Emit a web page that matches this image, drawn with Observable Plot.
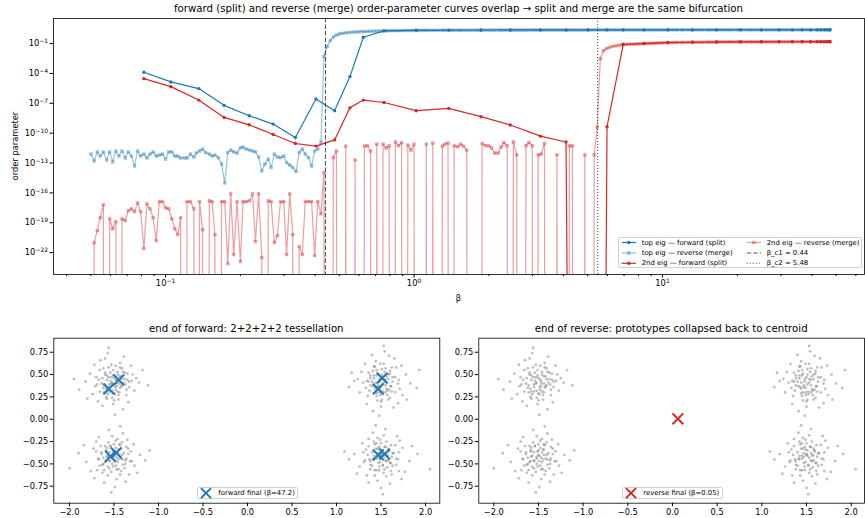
<!DOCTYPE html>
<html><head><meta charset="utf-8">
<script src="https://cdn.jsdelivr.net/npm/d3@7"></script>
<script src="https://cdn.jsdelivr.net/npm/@observablehq/plot@0.6"></script>
<style>
body{margin:0;background:#fff;}
#root{position:relative;width:865px;height:518px;font-family:"DejaVu Sans",sans-serif;color:#000;overflow:hidden;background:#fff}
.t{position:absolute;white-space:nowrap;line-height:1}
.box{position:absolute;border:1px solid #d0d0d0;border-radius:2px;background:rgba(255,255,255,0.85);box-sizing:border-box}
svg.leg{position:absolute;overflow:visible}
</style></head><body><div id="root"></div>
<script>
// ---------------- data ----------------
const titleMain = "forward (split) and reverse (merge) order-parameter curves overlap → split and merge are the same bifurcation";
const titleLeft = "end of forward: 2+2+2+2 tessellation";
const titleRight = "end of reverse: prototypes collapsed back to centroid";
const betaC1 = 0.44, betaC2 = 5.48;

// forward (split) run
const fwdBeta = [0.0818,0.105,0.136,0.172,0.217,0.271,0.333,0.403,0.479,0.552,0.625,0.757,1.02,1.38,1.86,2.44,3.23,4.09,5.02,5.98,6.95,8.43,10.5,13.2,16.5,20.6,25.0,29.4,33.3,36.5,39.4,41.9,43.4,44.8,45.9,46.9,47.2];
const fwdTop = [1.3e-4,1.4e-5,3.0e-6,6.2e-8,5.6e-9,8.1e-10,3.6e-11,2.7e-7,1.8e-8,4.8e-5,0.43,1.9,2.15,2.25,2.3,2.33,2.35,2.36,2.37,2.38,2.38,2.39,2.39,2.4,2.4,2.4,2.4,2.4,2.4,2.4,2.4,2.4,2.4,2.4,2.4,2.4,2.4];
const fwd2nd = [3.0e-5,4.7e-6,2.1e-7,3.8e-9,6.9e-10,7.4e-11,9.1e-12,5.0e-12,2.1e-11,3.5e-8,2.1e-7,1.2e-7,1.8e-8,3.1e-8,4.5e-9,6.5e-10,5.0e-11,1.3e-11,0,4.4e-10,0.085,0.1,0.126,0.135,0.142,0.147,0.15,0.151,0.152,0.153,0.154,0.155,0.155,0.155,0.155,0.155,0.155];

// reverse (merge) run
const revBeta = [0.0501,0.0516,0.0531,0.0546,0.0562,0.0579,0.0596,0.0613,0.0631,0.0649,
0.0668,0.0688,0.0708,0.0729,0.075,0.0772,0.0794,0.0818,0.0841,0.0866,
0.0891,0.0917,0.0944,0.0972,
0.1,0.103,0.106,0.109,0.112,0.115,0.119,0.122,0.126,0.13,
0.133,0.137,0.141,0.145,0.15,0.154,0.158,0.163,0.168,0.173,
0.178,0.183,0.188,0.194,0.2,0.205,0.211,0.218,0.224,0.23,
0.237,0.244,0.251,0.259,0.266,0.274,0.282,0.29,0.299,0.307,
0.316,0.325,0.335,0.345,0.355,0.365,0.376,0.387,0.398,0.41,
0.422,0.434,0.447,0.46,0.473,0.487,0.501,0.516,0.531,0.546,
0.562,0.579,0.596,0.613,0.631,0.649,0.668,0.688,0.708,0.729,
0.75,0.772,0.794,0.818,0.841,0.866,0.891,0.917,0.944,0.972,
1,1.03,1.06,1.09,1.12,1.15,1.19,1.22,1.26,1.3,
1.33,1.37,1.41,1.45,1.5,1.54,1.58,1.63,1.68,1.73,
1.78,1.83,1.88,1.94,2,2.05,2.11,2.18,2.24,2.3,
2.37,2.44,2.51,2.59,2.66,2.74,2.82,2.9,2.99,3.07,
3.16,3.25,3.35,3.45,3.55,3.65,3.76,3.87,3.98,4.1,
4.22,4.34,4.47,4.6,4.73,4.87,5.01,5.16,5.31,5.46,
5.62,5.79,5.96,6.13,6.31,6.49,6.68,6.88,7.08,7.29,
7.5,7.72,7.94,8.18,8.41,8.66,8.91,9.17,9.44,9.72,
10,10.3,10.6,10.9,11.2,11.5,11.9,12.2,12.6,13,
13.3,13.7,14.1,14.5,15,15.4,15.8,16.3,16.8,17.3,
17.8,18.3,18.8,19.4,20,20.5,21.1,21.8,22.4,23,
23.7,24.4,25.1,25.9,26.6,27.4,28.2,29,29.9,30.7,
31.6,32.5,33.5,34.5,35.5,36.5,37.6,38.7,39.8,41,
42.2,43.4,44.7,46,47.2];
const revTop = [7.9e-13,1.6e-13,1.3e-12,5.0e-13,1.3e-12,2.0e-13,1.3e-12,1.3e-13,1.6e-12,5.0e-13,
1.6e-12,3.2e-13,1.3e-12,5.0e-13,5.0e-14,1.6e-12,5.0e-13,7.9e-13,3.2e-13,7.9e-13,
1.3e-12,5.0e-13,6.3e-13,7.9e-13,2.5e-13,1.3e-12,1.3e-12,5.0e-13,5.0e-13,3.2e-13,
3.2e-13,3.2e-13,7.9e-13,4.0e-13,1.0e-12,1.6e-12,2.5e-12,1.1e-12,7.9e-13,5.0e-13,
6.3e-13,3.5e-13,7.9e-14,1.0e-15,1.1e-12,2.0e-12,1.3e-12,1.0e-12,3.2e-12,4.0e-12,
2.5e-12,2.0e-12,1.6e-12,1.3e-12,4.0e-13,1.6e-14,7.9e-14,2.5e-13,3.5e-14,7.9e-13,
4.0e-13,3.5e-13,5.0e-13,1.1e-13,6.3e-14,3.5e-14,1.4e-14,1.1e-12,2.5e-12,7.9e-13,
3.5e-13,5.0e-14,1.6e-12,2.5e-12,1.3e-11,5.0e-3,0.05,0.2,0.45,0.71,
0.93,1.07,1.2,1.29,1.38,1.45,1.51,1.58,1.62,1.66,
1.70,1.74,1.78,1.82,1.86,1.91,1.95,2.0,2.0,2.04,
2.04,2.09,2.09,2.09,2.09,2.09,2.14,2.14,2.14,2.14,
2.14,2.14,2.14,2.19,2.19,2.19,2.19,2.19,2.19,2.19,
2.19,2.19,2.19,2.19,2.19,2.19,2.24,2.24,2.24,2.24,
2.24,2.24,2.24,2.24,2.24,2.24,2.24,2.24,2.24,2.24,
2.24,2.29,2.29,2.29,2.29,2.29,2.29,2.29,2.29,2.29,
2.29,2.29,2.29,2.29,2.29,2.29,2.29,2.29,2.29,2.29,
2.29,2.34,2.34,2.34,2.34,2.34,2.34,2.34,2.34,2.34,
2.34,2.34,2.34,2.34,2.34,2.34,2.34,2.34,2.34,2.34,
2.34,2.34,2.34,2.34,2.34,2.34,2.4,2.4,2.4,2.4,
2.4,2.4,2.4,2.4,2.4,2.4,2.4,2.4,2.4,2.4,
2.4,2.4,2.4,2.4,2.4,2.4,2.4,2.4,2.4,2.4,
2.4,2.4,2.4,2.4,2.4,2.4,2.4,2.4,2.4,2.4,
2.4,2.4,2.4,2.4,2.4,2.4,2.4,2.4,2.4,2.4,
2.4,2.4,2.4,2.4,2.4,2.4,2.4,2.4,2.4];
const rev2nd = [0,1.0e-21,1.6e-20,3.2e-19,6.3e-18,0,2.5e-19,2.5e-20,1.3e-19,0,
2.5e-19,1.6e-19,1.6e-18,2.5e-18,1.3e-18,1.0e-17,1.3e-18,2.5e-22,7.9e-18,2.5e-18,
3.2e-19,1.6e-21,1.3e-17,1.3e-17,3.2e-18,2.5e-18,2.5e-19,2.5e-20,6.3e-21,3.2e-19,
0,1.3e-17,1.3e-17,2.5e-18,0,1.3e-17,2.0e-20,0,1.6e-17,1.3e-17,
6.3e-21,0,1.3e-17,1.3e-17,7.9e-24,7.9e-17,6.3e-23,1.3e-17,1.3e-23,1.3e-17,
1.3e-17,1.6e-17,7.9e-17,1.3e-21,7.9e-17,3.2e-23,0,1.6e-17,1.3e-17,1.0e-21,
5.0e-21,1.3e-17,1.3e-17,6.3e-23,7.9e-17,6.3e-21,0,4.0e-22,6.3e-23,1.3e-17,
1.3e-17,1.3e-17,5.0e-23,1.3e-17,7.9e-19,1.1e-14,0,0,3.5e-13,1.6e-12,
0,0,5.0e-12,0,0,2.0e-13,0,0,5.0e-12,5.4e-12,
1.6e-12,0,7.9e-12,0,7.9e-12,3.2e-12,5.4e-12,0,1.3e-11,5.4e-12,
1.1e-11,0,6.3e-12,2.0e-12,7.9e-12,0,0,0,7.9e-12,0,
1.0e-11,0,0,5.0e-12,7.9e-12,1.0e-11,0,5.4e-12,4.3e-12,7.9e-12,
5.0e-12,2.0e-12,0,0,0,0,9.1e-12,5.4e-12,5.4e-12,3.2e-12,
1.0e-12,1.0e-12,4.0e-12,1.1e-11,5.4e-12,0,1.3e-11,6.6e-13,0,0,
5.4e-12,1.1e-11,5.4e-12,0,6.6e-13,7.9e-13,9.1e-12,0,0,0,
6.6e-13,0,0,0,5.4e-12,5.4e-12,0,0,0,6.6e-13,
0,0,6.6e-13,4.0e-10,3.0e-3,0.02,0.032,0.043,0.052,0.06,
0.068,0.075,0.079,0.083,0.086,0.089,0.093,0.096,0.1,0.103,
0.106,0.109,0.112,0.115,0.118,0.122,0.126,0.127,0.128,0.129,
0.13,0.131,0.133,0.134,0.135,0.136,0.137,0.138,0.14,0.141,
0.142,0.144,0.145,0.145,0.146,0.146,0.147,0.147,0.148,0.148,
0.148,0.149,0.149,0.149,0.15,0.15,0.15,0.151,0.151,0.151,
0.152,0.152,0.152,0.152,0.153,0.153,0.153,0.153,0.154,0.154,
0.154,0.154,0.154,0.155,0.155,0.155,0.155,0.155,0.155];

// tick values
const xMajor = [0.1, 1, 10];
const xMinor = [0.04,0.05,0.06,0.07,0.08,0.09,0.2,0.3,0.4,0.5,0.6,0.7,0.8,0.9,2,3,4,5,6,7,8,9,20,30,40,50,60];
const yMajor = [1e-22,1e-19,1e-16,1e-13,1e-10,1e-7,1e-4,1e-1];
const sxTicks = [-2,-1.5,-1,-0.5,0,0.5,1,1.5,2];
const syTicks = [-0.75,-0.5,-0.25,0,0.25,0.5,0.75];

// data cloud (4 blobs, outer spread + dense core)
const blobUL = [[-1.52,0.41],[-1.38,0.52],[-1.61,0.30],[-1.45,0.22],[-1.70,0.47],[-1.33,0.36],[-1.56,0.58],[-1.48,0.33],[-1.64,0.40],[-1.41,0.45],[-1.29,0.50],[-1.74,0.28],[-1.51,0.17],[-1.58,0.49],[-1.43,0.63],[-1.66,0.55],[-1.36,0.27],[-1.47,0.40],[-1.55,0.36],[-1.82,0.42],[-1.22,0.41],[-1.60,0.68],[-1.40,0.11],[-1.53,0.47],[-1.31,0.60],[-1.68,0.20],[-1.46,0.53],[-1.59,0.25],[-1.35,0.44],[-1.72,0.61],[-1.50,0.29],[-1.42,0.37],[-1.62,0.35],[-1.27,0.32],[-1.57,0.74],[-1.89,0.33],[-1.18,0.55],[-1.49,0.05],[-1.63,0.15],[-1.39,0.70],[-1.77,0.51],[-1.54,0.43],[-1.44,0.48],[-1.34,0.19],[-1.67,0.44],[-1.58,0.31],[-1.48,0.60],[-1.25,0.46],[-1.80,0.23],[-1.37,0.39],[-1.52,0.24],[-1.65,0.66],[-1.44,0.30],[-1.60,0.52],[-1.30,0.43],[-1.95,0.45],[-1.12,0.38],[-1.56,0.80],[-1.71,0.37],[-1.41,0.57]];
const blobLL = [[-1.49,-0.41],[-1.60,-0.30],[-1.37,-0.50],[-1.55,-0.55],[-1.44,-0.28],[-1.68,-0.44],[-1.31,-0.36],[-1.52,-0.19],[-1.63,-0.60],[-1.40,-0.45],[-1.73,-0.33],[-1.27,-0.52],[-1.47,-0.67],[-1.58,-0.42],[-1.35,-0.23],[-1.66,-0.52],[-1.50,-0.35],[-1.42,-0.58],[-1.81,-0.48],[-1.21,-0.40],[-1.56,-0.12],[-1.61,-0.71],[-1.39,-0.38],[-1.46,-0.48],[-1.70,-0.25],[-1.33,-0.62],[-1.54,-0.30],[-1.44,-0.40],[-1.64,-0.37],[-1.28,-0.28],[-1.51,-0.53],[-1.76,-0.58],[-1.37,-0.70],[-1.59,-0.47],[-1.48,-0.24],[-1.90,-0.38],[-1.15,-0.46],[-1.53,-0.82],[-1.43,-0.08],[-1.67,-0.20],[-1.36,-0.44],[-1.57,-0.63],[-1.45,-0.34],[-1.62,-0.50],[-1.30,-0.47],[-1.72,-0.66],[-1.52,-0.44],[-1.40,-0.16],[-1.84,-0.29],[-1.24,-0.60],[-1.58,-0.36],[-1.47,-0.56],[-1.65,-0.30],[-1.34,-0.33],[-1.55,-0.46],[-2.00,-0.55],[-1.10,-0.35],[-1.49,-0.76],[-1.69,-0.57],[-1.41,-0.26]];
const blobUR = [[1.51,0.39],[1.38,0.49],[1.62,0.31],[1.46,0.21],[1.70,0.44],[1.33,0.35],[1.55,0.57],[1.49,0.30],[1.63,0.42],[1.42,0.46],[1.28,0.53],[1.74,0.27],[1.50,0.14],[1.58,0.50],[1.44,0.65],[1.67,0.58],[1.35,0.26],[1.47,0.38],[1.56,0.34],[1.83,0.40],[1.20,0.43],[1.59,0.71],[1.41,0.09],[1.53,0.45],[1.32,0.62],[1.69,0.18],[1.45,0.55],[1.60,0.24],[1.36,0.42],[1.73,0.60],[1.52,0.28],[1.43,0.36],[1.61,0.37],[1.26,0.30],[1.54,0.76],[1.90,0.35],[1.17,0.52],[1.48,0.04],[1.64,0.13],[1.40,0.72],[1.78,0.50],[1.55,0.44],[1.45,0.49],[1.34,0.17],[1.66,0.47],[1.57,0.32],[1.49,0.62],[1.24,0.45],[1.79,0.22],[1.38,0.38],[1.51,0.22],[1.65,0.68],[1.44,0.29],[1.60,0.54],[1.30,0.41],[1.93,0.55],[1.14,0.36],[1.53,0.82],[1.71,0.34],[1.42,0.59]];
const blobLR = [[1.50,-0.40],[1.61,-0.29],[1.38,-0.51],[1.54,-0.56],[1.45,-0.27],[1.69,-0.45],[1.30,-0.37],[1.53,-0.18],[1.62,-0.62],[1.41,-0.44],[1.74,-0.32],[1.26,-0.53],[1.46,-0.69],[1.57,-0.41],[1.36,-0.22],[1.67,-0.51],[1.49,-0.34],[1.43,-0.57],[1.82,-0.47],[1.20,-0.39],[1.55,-0.11],[1.60,-0.72],[1.40,-0.37],[1.47,-0.49],[1.71,-0.24],[1.34,-0.63],[1.55,-0.31],[1.45,-0.41],[1.63,-0.38],[1.29,-0.27],[1.52,-0.52],[1.77,-0.59],[1.36,-0.71],[1.58,-0.46],[1.49,-0.23],[1.91,-0.39],[1.14,-0.45],[1.52,-0.84],[1.44,-0.07],[1.68,-0.19],[1.37,-0.45],[1.56,-0.64],[1.46,-0.33],[1.61,-0.49],[1.31,-0.48],[1.73,-0.67],[1.53,-0.43],[1.41,-0.15],[1.85,-0.30],[1.23,-0.61],[1.59,-0.35],[1.48,-0.57],[1.66,-0.29],[1.33,-0.34],[1.56,-0.47],[2.05,-0.56],[1.09,-0.36],[1.50,-0.77],[1.70,-0.58],[1.42,-0.25]];
const coreUL = [[-1.47,0.43],[-1.55,0.39],[-1.50,0.46],[-1.43,0.35],[-1.58,0.44],[-1.52,0.32],[-1.46,0.50],[-1.61,0.38],[-1.39,0.41],[-1.54,0.52],[-1.49,0.36],[-1.57,0.28],[-1.42,0.48],[-1.63,0.46],[-1.45,0.27],[-1.51,0.55],[-1.36,0.33],[-1.59,0.34],[-1.48,0.44],[-1.53,0.40],[-1.40,0.53],[-1.66,0.31],[-1.44,0.40],[-1.56,0.47],[-1.50,0.21],[-1.38,0.45],[-1.62,0.57],[-1.47,0.37],[-1.55,0.31],[-1.43,0.58],[-1.69,0.39],[-1.33,0.42],[-1.51,0.49],[-1.58,0.23],[-1.46,0.31],[-1.41,0.38],[-1.60,0.50],[-1.53,0.61],[-1.49,0.28],[-1.35,0.51]];
const coreLL = [[-1.52,-0.42],[-1.46,-0.37],[-1.55,-0.47],[-1.41,-0.40],[-1.59,-0.35],[-1.48,-0.52],[-1.54,-0.30],[-1.37,-0.46],[-1.62,-0.43],[-1.45,-0.56],[-1.51,-0.36],[-1.43,-0.29],[-1.57,-0.53],[-1.64,-0.39],[-1.49,-0.47],[-1.40,-0.51],[-1.56,-0.26],[-1.34,-0.39],[-1.60,-0.48],[-1.47,-0.43],[-1.53,-0.59],[-1.44,-0.34],[-1.67,-0.45],[-1.50,-0.40],[-1.38,-0.55],[-1.58,-0.32],[-1.42,-0.44],[-1.55,-0.37],[-1.61,-0.57],[-1.46,-0.22],[-1.36,-0.31],[-1.52,-0.50],[-1.48,-0.32],[-1.70,-0.36],[-1.43,-0.62],[-1.57,-0.41],[-1.32,-0.47],[-1.50,-0.28],[-1.63,-0.51],[-1.45,-0.45]];
const coreUR = [[1.48,0.42],[1.55,0.38],[1.50,0.47],[1.44,0.34],[1.58,0.45],[1.52,0.31],[1.46,0.51],[1.61,0.37],[1.40,0.42],[1.54,0.53],[1.49,0.35],[1.57,0.27],[1.42,0.49],[1.63,0.47],[1.45,0.26],[1.51,0.56],[1.37,0.32],[1.59,0.33],[1.48,0.45],[1.53,0.41],[1.41,0.54],[1.66,0.30],[1.44,0.41],[1.56,0.48],[1.50,0.20],[1.38,0.46],[1.62,0.58],[1.47,0.36],[1.55,0.30],[1.43,0.59],[1.69,0.40],[1.34,0.43],[1.51,0.50],[1.58,0.22],[1.46,0.30],[1.41,0.37],[1.60,0.51],[1.53,0.62],[1.49,0.27],[1.36,0.52]];
const coreLR = [[1.51,-0.41],[1.47,-0.38],[1.55,-0.46],[1.42,-0.41],[1.59,-0.36],[1.48,-0.53],[1.54,-0.31],[1.38,-0.47],[1.62,-0.42],[1.45,-0.57],[1.51,-0.35],[1.43,-0.28],[1.57,-0.54],[1.64,-0.38],[1.49,-0.48],[1.40,-0.52],[1.56,-0.25],[1.35,-0.40],[1.60,-0.49],[1.47,-0.42],[1.53,-0.60],[1.44,-0.33],[1.67,-0.44],[1.50,-0.39],[1.38,-0.56],[1.58,-0.33],[1.42,-0.45],[1.55,-0.38],[1.61,-0.58],[1.46,-0.21],[1.36,-0.30],[1.52,-0.51],[1.48,-0.31],[1.70,-0.37],[1.43,-0.63],[1.57,-0.40],[1.32,-0.46],[1.50,-0.27],[1.63,-0.52],[1.45,-0.44]];

// prototypes
const fwdFinalX = [-1.558,-1.446,-1.539,-1.475,1.468,1.513,1.468,1.539];
const fwdFinalY = [0.34,0.44,-0.415,-0.377,0.34,0.46,-0.40,-0.39];
const revFinalX = [0.06];
const revFinalY = [0.005];

// ---------------- drawing ----------------
const BLUE = "#1f77b4", RED = "#d62728", REVA = 0.45;
const NS = "http://www.w3.org/2000/svg";
const root = document.getElementById("root");
const FONT = "DejaVu Sans";
const sup = {"0":"⁰","1":"¹","2":"²","3":"³","4":"⁴","5":"⁵","6":"⁶","7":"⁷","8":"⁸","9":"⁹","-":"⁻"};
const pow = d => "10" + String(Math.round(Math.log10(d))).split("").map(c => sup[c]).join("");
const minus = s => s.replace("-", "−");
const TINY = 1e-300; // non-positive values are clipped far below the axis (matplotlib "clip")

const fwdRows = fwdBeta.map((b, i) => ({b, top: fwdTop[i], sec: fwd2nd[i]}));
const revRows = revBeta.map((b, i) => ({b, top: revTop[i], sec: rev2nd[i]}));
const yOf = k => d => d[k] > 0 ? d[k] : TINY;

const chartTop = Plot.plot({
  width: 865, height: 305,
  marginLeft: 53, marginRight: 1, marginTop: 18, marginBottom: 31,
  style: {fontFamily: FONT, fontSize: "8.3px", color: "#000", background: "transparent"},
  x: {type: "log", domain: [0.0354, 65]},
  y: {type: "log", domain: [6.3e-25, 33]},
  marks: [
    Plot.axisX({ticks: xMinor, tickSize: 2, tickFormat: () => "", label: null}),
    Plot.axisX({ticks: xMajor, tickSize: 3.5, tickPadding: 2, tickFormat: pow, label: null}),
    Plot.axisY({ticks: yMajor, tickSize: 3.5, tickPadding: 2, tickFormat: pow, label: null}),
    Plot.line(fwdRows, {x: "b", y: yOf("top"), stroke: BLUE, strokeWidth: 1.2, clip: true}),
    Plot.dot(fwdRows.filter(d => d.top > 0), {x: "b", y: "top", r: 1.7, fill: BLUE, clip: true}),
    Plot.line(revRows, {x: "b", y: yOf("top"), stroke: BLUE, strokeOpacity: REVA, strokeWidth: 1.2, clip: true}),
    Plot.dot(revRows.filter(d => d.top > 0), {x: "b", y: "top", symbol: "square", r: 1.5, fill: BLUE, fillOpacity: 0.3, stroke: BLUE, strokeOpacity: REVA, strokeWidth: 0.7, clip: true}),
    Plot.line(fwdRows, {x: "b", y: yOf("sec"), stroke: RED, strokeWidth: 1.2, clip: true}),
    Plot.dot(fwdRows.filter(d => d.sec > 0), {x: "b", y: "sec", r: 1.7, fill: RED, clip: true}),
    Plot.line(revRows, {x: "b", y: yOf("sec"), stroke: RED, strokeOpacity: REVA, strokeWidth: 1.2, clip: true}),
    Plot.dot(revRows.filter(d => d.sec > 0), {x: "b", y: "sec", symbol: "square", r: 1.5, fill: RED, fillOpacity: 0.3, stroke: RED, strokeOpacity: REVA, strokeWidth: 0.7, clip: true}),
    Plot.ruleX([betaC1], {stroke: "#000", strokeOpacity: 0.65, strokeWidth: 1.1, strokeDasharray: "4.5,2"}),
    Plot.ruleX([betaC2], {stroke: "#000", strokeOpacity: 0.65, strokeWidth: 1.1, strokeDasharray: "1.1,1.9"}),
    Plot.frame({stroke: "#000", strokeWidth: 0.8})
  ]
});
// render "10⁻¹" tick labels as 10 with a real superscript (mathtext look)
const supInv = Object.fromEntries(Object.entries(sup).map(([k, v]) => [v, k]));
chartTop.querySelectorAll("text").forEach(t => {
  const s = t.textContent;
  if (/^10[⁻⁰¹²³⁴⁵⁶⁷⁸⁹]+$/.test(s)) {
    const e = s.slice(2).split("").map(c => supInv[c]).join("").replace("-", "−");
    t.textContent = "10";
    const ts = document.createElementNS(NS, "tspan");
    ts.setAttribute("dy", "-0.5em");
    ts.setAttribute("font-size", "0.72em");
    ts.textContent = e;
    t.appendChild(ts);
  }
});
chartTop.style.position = "absolute"; chartTop.style.left = "0px"; chartTop.style.top = "0px";
root.appendChild(chartTop);

const cloud = [...blobUL, ...blobLL, ...blobUR, ...blobLR, ...coreUL, ...coreLL, ...coreUR, ...coreLR];
function panel(xDomain, width, ml, mr, px, py, color) {
  const protos = px.map((x, i) => ({x, y: py[i]}));
  return Plot.plot({
    width, height: 193, marginLeft: ml, marginRight: mr, marginTop: 12.7, marginBottom: 15.3,
    style: {fontFamily: FONT, fontSize: "8.3px", color: "#000", background: "transparent"},
    x: {domain: xDomain}, y: {domain: [-0.94, 0.907]},
    marks: [
      Plot.axisX({ticks: sxTicks, tickSize: 3.5, tickPadding: 2, tickFormat: d => minus(d.toFixed(1)), label: null}),
      Plot.axisY({ticks: syTicks, tickSize: 3.5, tickPadding: 2, tickFormat: d => minus(d.toFixed(2)), label: null}),
      Plot.dot(cloud, {x: d => d[0], y: d => d[1], r: 1.4, fill: "#7a7a7a", fillOpacity: 0.48}),
      Plot.dot(protos, {x: "x", y: "y", symbol: "times", r: 5, stroke: color, strokeWidth: 2}),
      Plot.frame({stroke: "#000", strokeWidth: 0.8})
    ]
  });
}
const chartL = panel([-2.176, 2.16], 445, 53.3, 5.7, fwdFinalX, fwdFinalY, BLUE);
chartL.style.position = "absolute"; chartL.style.left = "0px"; chartL.style.top = "325px";
root.appendChild(chartL);
const chartR = panel([-2.168, 2.149], 420, 33.3, 1, revFinalX, revFinalY, RED);
chartR.style.position = "absolute"; chartR.style.left = "445px"; chartR.style.top = "325px";
root.appendChild(chartR);

// ---------------- text ----------------
function txt(s, x, y, size, anchor = "middle") {
  const d = document.createElement("div");
  d.className = "t";
  d.textContent = s;
  d.style.fontSize = size + "px";
  d.style.left = x + "px"; d.style.top = y + "px";
  const tx = anchor === "middle" ? "-50%" : anchor === "end" ? "-100%" : "0";
  d.style.transform = `translate(${tx},-50%)`;
  root.appendChild(d);
  return d;
}
txt(titleMain, 458.5, 9, 10.2);
txt(titleLeft, 246.3, 328.5, 10.2);
txt(titleRight, 671.2, 328.5, 10.2);
txt("β", 458.5, 298, 8.3);
const yl = document.createElement("div");
yl.className = "t"; yl.textContent = "order parameter"; yl.style.fontSize = "8.3px";
yl.style.left = "15px"; yl.style.top = "146px";
yl.style.transform = "translate(-50%,-50%) rotate(-90deg)";
root.appendChild(yl);

// legends
function box(x, y, w, h) {
  const b = document.createElement("div"); b.className = "box";
  b.style.left = x + "px"; b.style.top = y + "px"; b.style.width = w + "px"; b.style.height = h + "px";
  root.appendChild(b);
}
function handle(x1, x2, y, opts) {
  const s = document.createElementNS(NS, "svg");
  s.setAttribute("class", "leg");
  s.setAttribute("width", 1); s.setAttribute("height", 1);
  s.style.left = "0px"; s.style.top = "0px";
  let inner = "";
  if (opts.line) inner += `<line x1="${x1}" x2="${x2}" y1="${y}" y2="${y}" stroke="${opts.color}" stroke-opacity="${opts.op ?? 1}" stroke-width="${opts.w ?? 1.2}" ${opts.dash ? `stroke-dasharray="${opts.dash}"` : ""}/>`;
  const cx = (x1 + x2) / 2;
  if (opts.marker === "o") inner += `<circle cx="${cx}" cy="${y}" r="1.7" fill="${opts.color}"/>`;
  if (opts.marker === "s") inner += `<rect x="${cx - 1.35}" y="${y - 1.35}" width="2.7" height="2.7" fill="${opts.color}" fill-opacity="0.3" stroke="${opts.color}" stroke-opacity="${REVA}" stroke-width="0.7"/>`;
  if (opts.marker === "x") inner += `<path d="M${cx - 5},${y - 5}L${cx + 5},${y + 5}M${cx - 5},${y + 5}L${cx + 5},${y - 5}" stroke="${opts.color}" stroke-width="2" fill="none"/>`;
  s.innerHTML = inner;
  root.appendChild(s);
}
box(618, 237, 244, 31);
const rowsY = [242.5, 253, 263.3];
handle(621.7, 636, rowsY[0], {line: true, color: BLUE, marker: "o"});
txt("top eig — forward (split)", 641.7, rowsY[0], 6.9, "start");
handle(621.7, 636, rowsY[1], {line: true, color: BLUE, op: REVA, marker: "s"});
txt("top eig — reverse (merge)", 641.7, rowsY[1], 6.9, "start");
handle(621.7, 636, rowsY[2], {line: true, color: RED, marker: "o"});
txt("2nd eig — forward (split)", 641.7, rowsY[2], 6.9, "start");
handle(746.7, 761, rowsY[0], {line: true, color: RED, op: REVA, marker: "s"});
txt("2nd eig — reverse (merge)", 766.7, rowsY[0], 6.9, "start");
handle(746.7, 761, rowsY[1], {line: true, color: "#000", op: 0.65, w: 1.1, dash: "4.5,2"});
txt("β_c1 = 0.44", 766.7, rowsY[1], 6.9, "start");
handle(746.7, 761, rowsY[2], {line: true, color: "#000", op: 0.65, w: 1.1, dash: "1.1,1.9"});
txt("β_c2 = 5.48", 766.7, rowsY[2], 6.9, "start");

box(196.7, 486.7, 101.6, 12.8);
handle(201, 211, 493.1, {color: BLUE, marker: "x"});
txt("forward final (β=47.2)", 218.3, 493.1, 6.9, "start");
box(621.7, 486.7, 101.6, 12.8);
handle(626, 636, 493.1, {color: RED, marker: "x"});
txt("reverse final (β=0.05)", 643.3, 493.1, 6.9, "start");
</script>
</body></html>
